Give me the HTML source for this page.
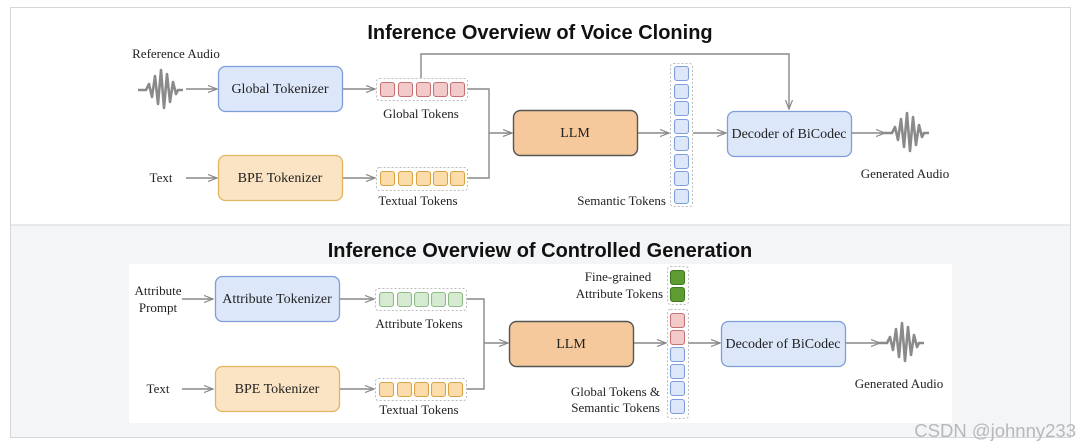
<!DOCTYPE html>
<html><head><meta charset="utf-8"><style>
html,body{margin:0;padding:0;background:#fff;}
svg{display:block;}
.s{font-family:"Liberation Serif",serif;font-size:13px;fill:#222;}
.t{font-family:"Liberation Sans",sans-serif;font-weight:bold;font-size:20px;fill:#111;}
.bx{font-family:"Liberation Serif",serif;font-size:14px;fill:#222;}
</style></head><body>
<svg width="1080" height="446" viewBox="0 0 1080 446" xmlns="http://www.w3.org/2000/svg">
<defs>
<marker id="a" markerWidth="10" markerHeight="8" refX="9" refY="4" orient="auto" markerUnits="userSpaceOnUse">
<path d="M0,0.5 L9,4 L0,7.5" fill="none" stroke="#888" stroke-width="1.2"/></marker>
<path id="w" d="M0,0 H8 L11,-6 L14,7 L17,-14 L20,14 L23,-20 L26,18 L29,-16 L32,12 L35,-8 L38,4 L40,0 H45" fill="none" stroke="#8a8a8a" stroke-width="2.6" stroke-linejoin="round"/>
</defs>
<rect x="0" y="0" width="1080" height="446" fill="#fff"/>
<rect x="10.5" y="7.5" width="1060" height="430" fill="#fff" stroke="#d4d7db"/>
<rect x="11" y="225" width="1059" height="212" fill="#f3f5f7"/>
<line x1="11" y1="225" x2="1070" y2="225" stroke="#d4d7db"/>
<rect x="129" y="264" width="823" height="159" fill="#fff"/>

<text x="540" y="39" text-anchor="middle" class="t">Inference Overview of Voice Cloning</text>
<text x="540" y="257" text-anchor="middle" class="t">Inference Overview of Controlled Generation</text>

<g stroke="#888" stroke-width="1.4" fill="none">
<line x1="186" y1="89" x2="217" y2="89" marker-end="url(#a)"/>
<line x1="343" y1="89" x2="375" y2="89" marker-end="url(#a)"/>
<line x1="186" y1="178" x2="217" y2="178" marker-end="url(#a)"/>
<line x1="343" y1="178" x2="375" y2="178" marker-end="url(#a)"/>
<polyline points="467,89 489,89 489,178 467,178"/>
<line x1="489" y1="133" x2="512" y2="133" marker-end="url(#a)"/>
<polyline points="421,78 421,54 789,54 789,109" marker-end="url(#a)"/>
<line x1="638" y1="133" x2="669" y2="133" marker-end="url(#a)"/>
<line x1="693" y1="133" x2="726" y2="133" marker-end="url(#a)"/>
<line x1="852" y1="133" x2="885" y2="133" marker-end="url(#a)"/>
<line x1="182" y1="299" x2="213" y2="299" marker-end="url(#a)"/>
<line x1="340" y1="299" x2="374" y2="299" marker-end="url(#a)"/>
<line x1="182" y1="389" x2="213" y2="389" marker-end="url(#a)"/>
<line x1="340" y1="389" x2="374" y2="389" marker-end="url(#a)"/>
<polyline points="466,299 484,299 484,389 466,389"/>
<line x1="484" y1="343" x2="508" y2="343" marker-end="url(#a)"/>
<line x1="634" y1="343" x2="666" y2="343" marker-end="url(#a)"/>
<line x1="688" y1="343" x2="720" y2="343" marker-end="url(#a)"/>
<line x1="846" y1="343" x2="880" y2="343" marker-end="url(#a)"/>
</g>

<use href="#w" x="138" y="90"/>
<use href="#w" x="884" y="133"/>
<use href="#w" x="879" y="343"/>

<rect x="218.5" y="66.5" width="124" height="45" rx="7" fill="#dce7fa" stroke="#7f9dd8" stroke-width="1.3"/>
<text x="280" y="93" text-anchor="middle" class="bx">Global Tokenizer</text>
<rect x="218.5" y="155.5" width="124" height="45" rx="7" fill="#fbe4c4" stroke="#e2b462" stroke-width="1.3"/>
<text x="280" y="182" text-anchor="middle" class="bx">BPE Tokenizer</text>
<rect x="513.5" y="110.5" width="124" height="45" rx="7" fill="#f5c99b" stroke="#555" stroke-width="1.4"/>
<text x="575" y="137" text-anchor="middle" class="bx">LLM</text>
<rect x="727.5" y="111.5" width="124" height="45" rx="7" fill="#dce7fa" stroke="#7f9dd8" stroke-width="1.3"/>
<text x="789" y="138" text-anchor="middle" class="bx">Decoder of BiCodec</text>

<rect x="376.5" y="78.5" width="91" height="22" rx="3" fill="none" stroke="#bbb" stroke-dasharray="2,2"/>
<g fill="#f2caca" stroke="#c47272" stroke-width="1.1">
<rect x="380.5" y="82.5" width="14" height="14" rx="2.5"/><rect x="398.5" y="82.5" width="14" height="14" rx="2.5"/><rect x="416.5" y="82.5" width="14" height="14" rx="2.5"/><rect x="433.5" y="82.5" width="14" height="14" rx="2.5"/><rect x="450.5" y="82.5" width="14" height="14" rx="2.5"/></g>
<rect x="376.5" y="167.5" width="91" height="23" rx="3" fill="none" stroke="#bbb" stroke-dasharray="2,2"/>
<g fill="#fbdcaa" stroke="#d9a444" stroke-width="1.1">
<rect x="380.5" y="171.5" width="14" height="14" rx="2.5"/><rect x="398.5" y="171.5" width="14" height="14" rx="2.5"/><rect x="416.5" y="171.5" width="14" height="14" rx="2.5"/><rect x="433.5" y="171.5" width="14" height="14" rx="2.5"/><rect x="450.5" y="171.5" width="14" height="14" rx="2.5"/></g>
<rect x="670.5" y="63.5" width="22" height="143" rx="3" fill="none" stroke="#bbb" stroke-dasharray="2,2"/>
<g fill="#dce7fa" stroke="#7f9dd8" stroke-width="1.1">
<rect x="674.5" y="66.5" width="14" height="14" rx="2.5"/><rect x="674.5" y="84.5" width="14" height="14" rx="2.5"/><rect x="674.5" y="101.5" width="14" height="14" rx="2.5"/><rect x="674.5" y="119.5" width="14" height="14" rx="2.5"/><rect x="674.5" y="136.5" width="14" height="14" rx="2.5"/><rect x="674.5" y="154.5" width="14" height="14" rx="2.5"/><rect x="674.5" y="171.5" width="14" height="14" rx="2.5"/><rect x="674.5" y="189.5" width="14" height="14" rx="2.5"/></g>

<text x="176" y="58" text-anchor="middle" class="s">Reference Audio</text>
<text x="161" y="182" text-anchor="middle" class="s">Text</text>
<text x="421" y="118" text-anchor="middle" class="s">Global Tokens</text>
<text x="418" y="205" text-anchor="middle" class="s">Textual Tokens</text>
<text x="666" y="205" text-anchor="end" class="s">Semantic Tokens</text>
<text x="905" y="178" text-anchor="middle" class="s">Generated Audio</text>

<rect x="215.5" y="276.5" width="124" height="45" rx="7" fill="#dce7fa" stroke="#7f9dd8" stroke-width="1.3"/>
<text x="277" y="303" text-anchor="middle" class="bx">Attribute Tokenizer</text>
<rect x="215.5" y="366.5" width="124" height="45" rx="7" fill="#fbe4c4" stroke="#e2b462" stroke-width="1.3"/>
<text x="277" y="393" text-anchor="middle" class="bx">BPE Tokenizer</text>
<rect x="509.5" y="321.5" width="124" height="45" rx="7" fill="#f5c99b" stroke="#555" stroke-width="1.4"/>
<text x="571" y="348" text-anchor="middle" class="bx">LLM</text>
<rect x="721.5" y="321.5" width="124" height="45" rx="7" fill="#dce7fa" stroke="#7f9dd8" stroke-width="1.3"/>
<text x="783" y="348" text-anchor="middle" class="bx">Decoder of BiCodec</text>

<rect x="375.5" y="288.5" width="91" height="22" rx="3" fill="none" stroke="#bbb" stroke-dasharray="2,2"/>
<g fill="#d6e9d1" stroke="#8fbb86" stroke-width="1.1">
<rect x="379.5" y="292.5" width="14" height="14" rx="2.5"/><rect x="397.5" y="292.5" width="14" height="14" rx="2.5"/><rect x="414.5" y="292.5" width="14" height="14" rx="2.5"/><rect x="431.5" y="292.5" width="14" height="14" rx="2.5"/><rect x="448.5" y="292.5" width="14" height="14" rx="2.5"/></g>
<rect x="375.5" y="378.5" width="91" height="22" rx="3" fill="none" stroke="#bbb" stroke-dasharray="2,2"/>
<g fill="#fbdcaa" stroke="#d9a444" stroke-width="1.1">
<rect x="379.5" y="382.5" width="14" height="14" rx="2.5"/><rect x="397.5" y="382.5" width="14" height="14" rx="2.5"/><rect x="414.5" y="382.5" width="14" height="14" rx="2.5"/><rect x="431.5" y="382.5" width="14" height="14" rx="2.5"/><rect x="448.5" y="382.5" width="14" height="14" rx="2.5"/></g>
<rect x="667.5" y="266.5" width="21" height="38" rx="3" fill="none" stroke="#bbb" stroke-dasharray="2,2"/>
<g fill="#5e9c32" stroke="#3f7a20" stroke-width="1.1">
<rect x="670.5" y="270.5" width="14" height="14" rx="2.5"/><rect x="670.5" y="287.5" width="14" height="14" rx="2.5"/></g>
<rect x="667.5" y="309.5" width="21" height="109" rx="3" fill="none" stroke="#bbb" stroke-dasharray="2,2"/>
<g fill="#f2caca" stroke="#c47272" stroke-width="1.1">
<rect x="670.5" y="313.5" width="14" height="14" rx="2.5"/><rect x="670.5" y="330.5" width="14" height="14" rx="2.5"/></g>
<g fill="#dce7fa" stroke="#7f9dd8" stroke-width="1.1">
<rect x="670.5" y="347.5" width="14" height="14" rx="2.5"/><rect x="670.5" y="364.5" width="14" height="14" rx="2.5"/><rect x="670.5" y="381.5" width="14" height="14" rx="2.5"/><rect x="670.5" y="399.5" width="14" height="14" rx="2.5"/></g>

<text x="158" y="295" text-anchor="middle" class="s">Attribute</text>
<text x="158" y="312" text-anchor="middle" class="s">Prompt</text>
<text x="158" y="393" text-anchor="middle" class="s">Text</text>
<text x="419" y="328" text-anchor="middle" class="s">Attribute Tokens</text>
<text x="419" y="414" text-anchor="middle" class="s">Textual Tokens</text>
<text x="618" y="281" text-anchor="middle" class="s">Fine-grained</text>
<text x="663" y="298" text-anchor="end" class="s">Attribute Tokens</text>
<text x="660" y="396" text-anchor="end" class="s">Global Tokens &amp;</text>
<text x="660" y="412" text-anchor="end" class="s">Semantic Tokens</text>
<text x="899" y="388" text-anchor="middle" class="s">Generated Audio</text>

<text x="1076" y="437" text-anchor="end" font-family="Liberation Sans, sans-serif" font-size="18.5" fill="#b8b8b8">CSDN @johnny233</text>
</svg>
</body></html>
